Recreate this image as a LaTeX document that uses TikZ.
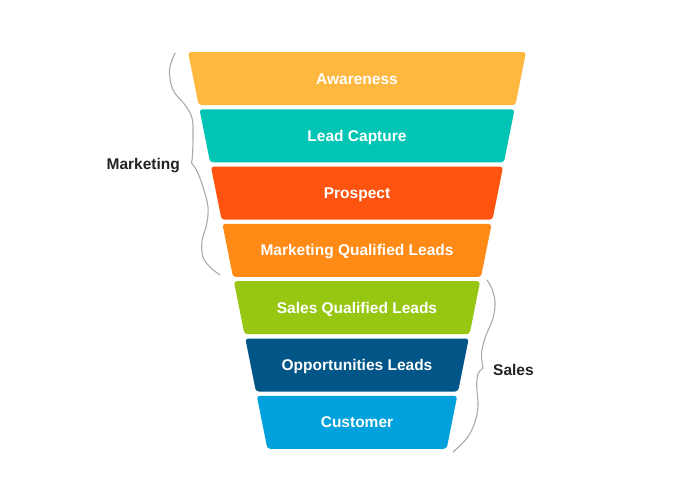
\documentclass[tikz,border=0pt]{standalone}
\usepackage{fontspec}
\setmainfont{Liberation Sans}
\usepackage{tikz}
\usetikzlibrary{positioning, calc}

\definecolor{cAware}{HTML}{FFB83F}
\definecolor{cCapture}{HTML}{00C5B4}
\definecolor{cProspect}{HTML}{FF5410}
\definecolor{cMQL}{HTML}{FF8B16}
\definecolor{cSQL}{HTML}{97C713}
\definecolor{cOpp}{HTML}{015587}
\definecolor{cCust}{HTML}{00A1DC}
\definecolor{cLabel}{HTML}{222222}
\definecolor{cBrace}{HTML}{AAAAAA}

\tikzset{
  bandtext/.style={text=white, font=\fontsize{15.5}{17}\selectfont\bfseries, inner sep=0pt, anchor=base},
  grouplabel/.style={text=cLabel, font=\fontsize{15.5}{17}\selectfont\bfseries, inner sep=0pt},
  bracestyle/.style={draw=cBrace, line width=1.1pt, line cap=round}
}

\begin{document}
\begin{tikzpicture}[x=1pt, y=-1pt]
  \useasboundingbox (0,0) rectangle (695,485);

  % Funnel bands
  \foreach \i/\name/\col/\txt in {0/awareness/cAware/Awareness,
      1/capture/cCapture/Lead Capture,
      2/prospect/cProspect/Prospect,
      3/mql/cMQL/Marketing Qualified Leads,
      4/sql/cSQL/Sales Qualified Leads,
      5/opps/cOpp/Opportunities Leads,
      6/customer/cCust/Customer}
  {
    \pgfmathsetmacro{\yt}{52+57.3*\i}
    \pgfmathsetmacro{\yb}{\yt+53}
    \fill[\col, rounded corners=3pt]
      ({188+0.2*(\yt-52)}, \yt) -- ({526-0.2*(\yt-52)}, \yt)
      -- ({526-0.2*(\yb-52)}, \yb) -- ({188+0.2*(\yb-52)}, \yb) -- cycle;
    \node[bandtext] (\name) at (357, {\yt+32}) {\txt};
  }

  % Group labels
  \node[grouplabel, anchor=base east] (marketing) at (180,169) {Marketing};
  \node[grouplabel, anchor=base west] (sales) at (493,375) {Sales};

  % Marketing brace
  \draw[bracestyle] plot[smooth, tension=0.6] coordinates
    {(175,53) (169.5,70) (173,90) (185,105) (192,118) (193,135) (192.5,155) (191.5,163)};
  \draw[bracestyle] plot[smooth, tension=0.6] coordinates
    {(191.5,163) (197,171) (203,187) (208,207) (206.5,225) (202,241) (203,257) (210,267) (220,275)};

  % Sales brace
  \draw[bracestyle] plot[smooth, tension=0.6] coordinates
    {(487,280) (492,289) (495,302) (493,318) (485,338) (481.7,352) (482,362) (483,368)};
  \draw[bracestyle] plot[smooth, tension=0.6] coordinates
    {(483,368) (478,374) (476.7,386) (478,405) (475,422) (467,438) (453,452)};
\end{tikzpicture}
\end{document}
